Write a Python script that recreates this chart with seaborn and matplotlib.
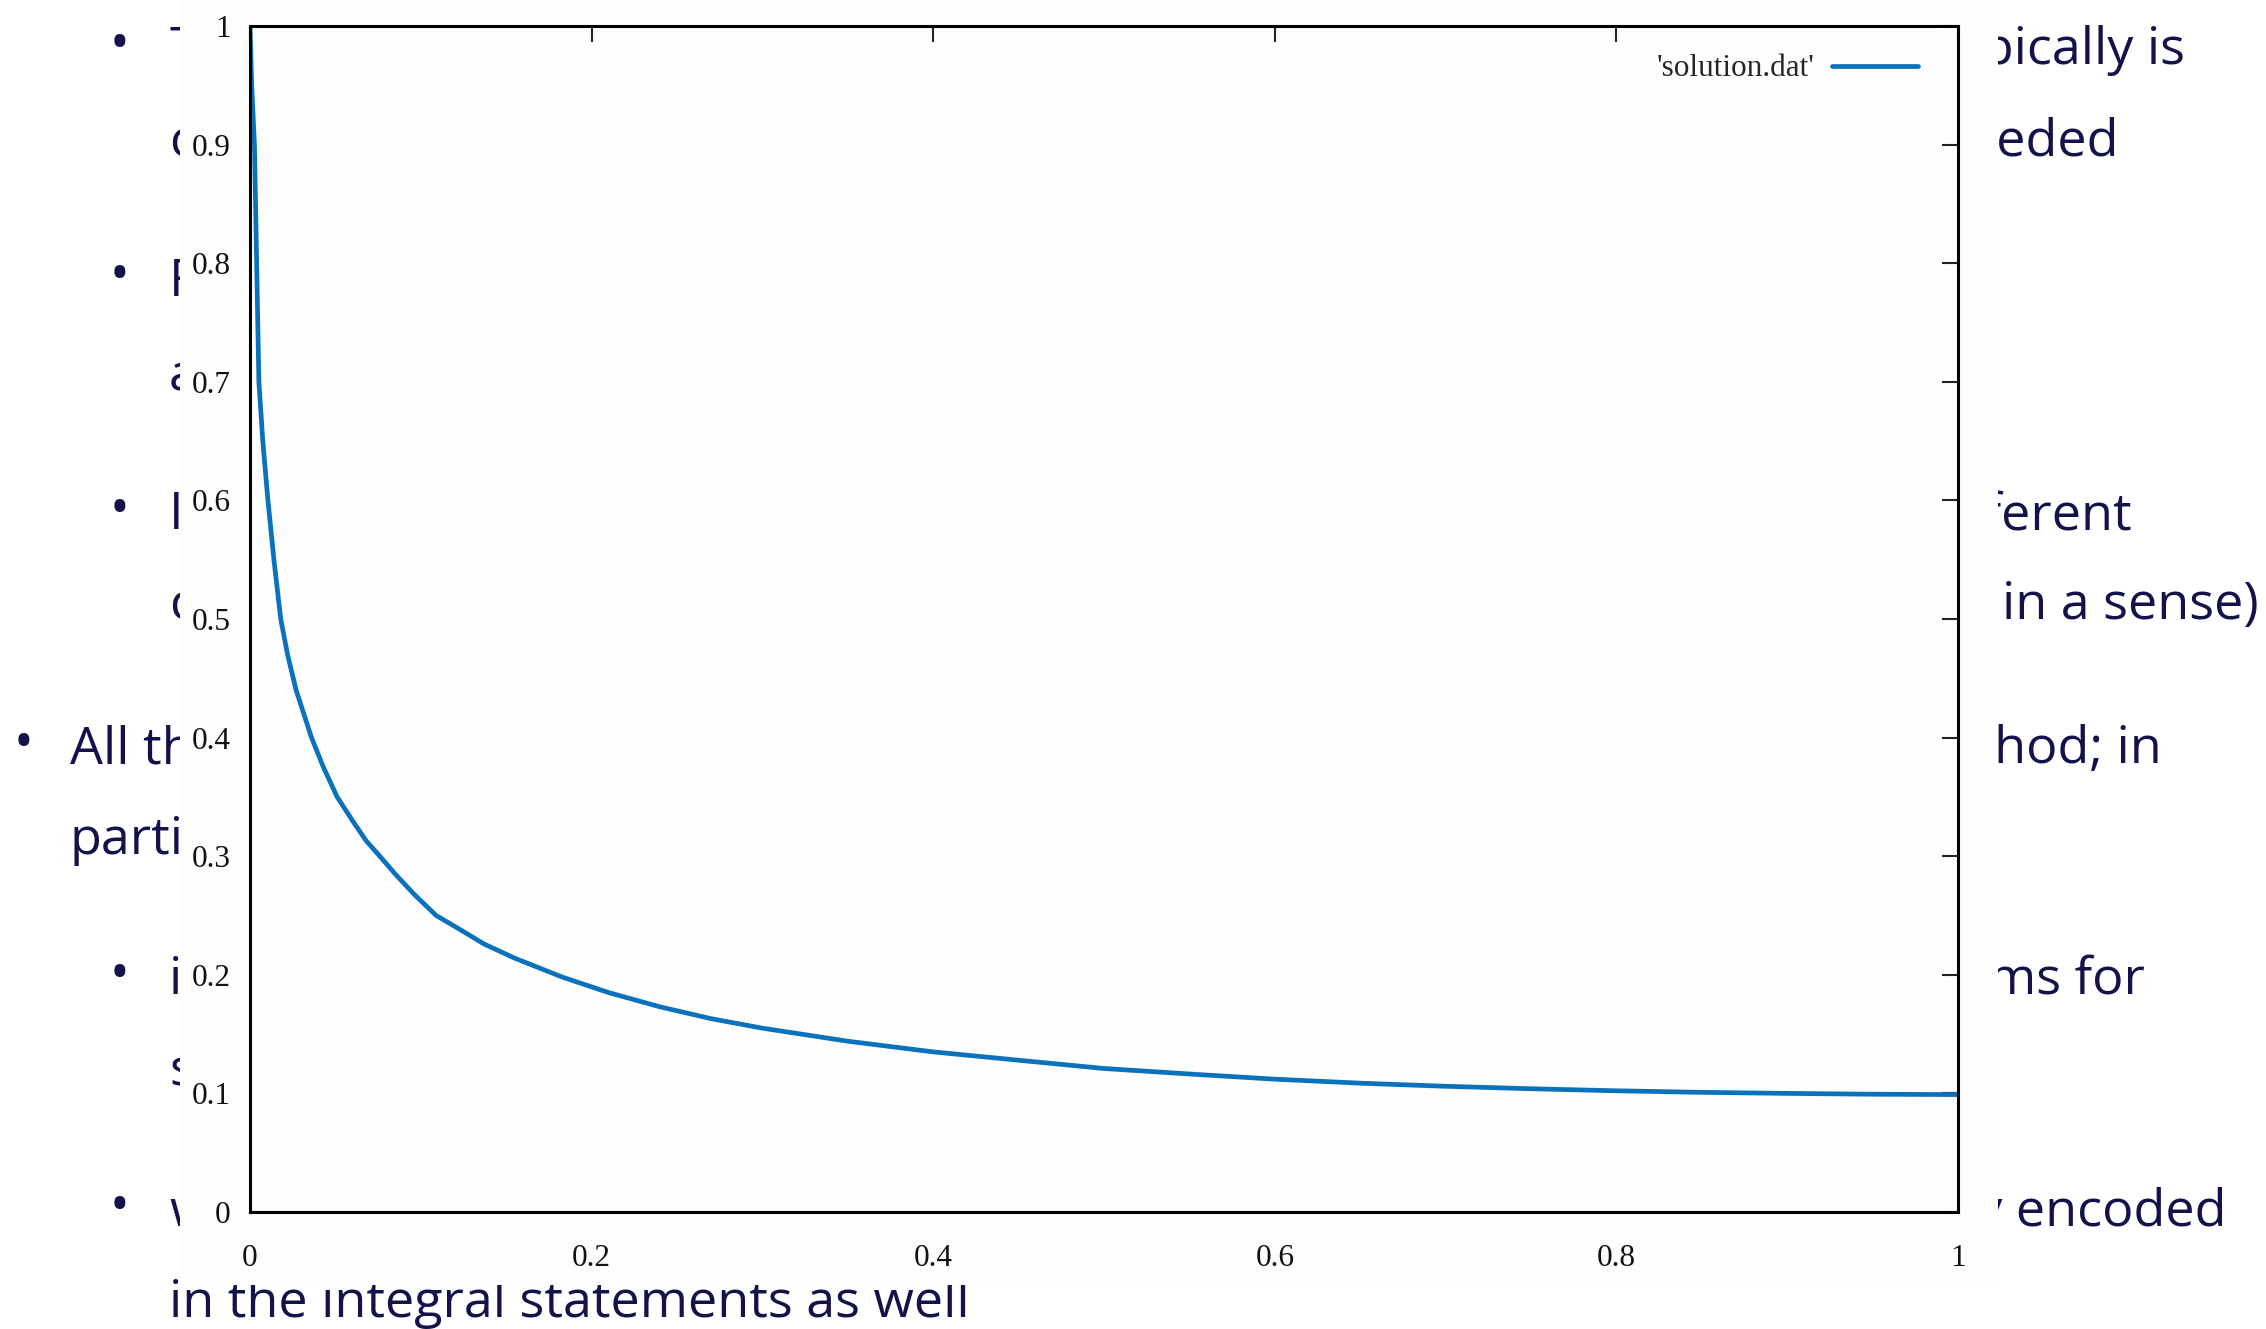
import numpy as np
import pandas as pd
import matplotlib
matplotlib.use("Agg")
import matplotlib.pyplot as plt
from matplotlib.patches import Rectangle
import seaborn as sns

# ---- data ----
x_vals = [0.0, 0.001, 0.0026, 0.0039, 0.0052, 0.0075, 0.0105, 0.014, 0.018, 0.022,
          0.027, 0.036, 0.043, 0.051, 0.06, 0.068, 0.076, 0.085, 0.096, 0.109,
          0.122, 0.137, 0.155, 0.183, 0.21, 0.24, 0.27, 0.3, 0.35, 0.4,
          0.457, 0.5, 0.554, 0.6, 0.652, 0.7, 0.748, 0.8, 0.845, 0.9, 0.95, 1.0]
y_vals = [1.0, 0.95, 0.9, 0.8, 0.7, 0.65, 0.6, 0.55, 0.5, 0.47,
          0.44, 0.4, 0.375, 0.35, 0.33, 0.313, 0.3, 0.285, 0.268, 0.25,
          0.239, 0.226, 0.214, 0.198, 0.185, 0.173, 0.163, 0.155, 0.144, 0.135,
          0.127, 0.121, 0.116, 0.112, 0.1085, 0.106, 0.104, 0.1022, 0.101, 0.1, 0.0993, 0.099]
series_label = "'solution.dat'"
x_ticks = [0, 0.2, 0.4, 0.6, 0.8, 1.0]
x_tick_labels = ["0", "0.2", "0.4", "0.6", "0.8", "1"]
y_ticks = [0, 0.1, 0.2, 0.3, 0.4, 0.5, 0.6, 0.7, 0.8, 0.9, 1.0]
y_tick_labels = ["0", "0.1", "0.2", "0.3", "0.4", "0.5", "0.6", "0.7", "0.8", "0.9", "1"]

# slide text fragments behind the chart: (left text, right text, level)
# level 1 = first-level bullet, 2 = second-level bullet,
# -1 = continuation of first level, 0 = continuation of second level
slide_lines = [
    ("The", "typically is", 2),
    ("conditions", "needed", 0),
    ("For", "", 2),
    ("and", "", 0),
    ("In", "different", 2),
    ("conditions", "in a sense)", 0),
    ("All the", "method; in", 1),
    ("particular", "", -1),
    ("in", "problems for", 2),
    ("some", "", 0),
    ("which", "naturally encoded", 2),
    ("in the integral statements as well", "", 0),
]

W, H = 2266, 1329
sns.set_theme(style="white")
plt.rcParams["font.family"] = ["Liberation Serif", "DejaVu Serif"]

fig = plt.figure(figsize=(W / 100, H / 100), dpi=100)
fig.patch.set_facecolor("white")

navy = "#13124a"
slide_font = ["Open Sans", "DejaVu Sans"]
fs = 37.5
baselines = [64, 155, 295, 389, 529, 619, 763, 854, 994, 1085, 1226, 1317]
right_ends = {0: 2185, 1: 2119, 4: 2132, 5: 2259, 6: 2162, 8: 2145, 10: 2226}
for i, (lt, rt, lvl) in enumerate(slide_lines):
    yb = 1 - baselines[i] / H
    if lvl in (1, -1):
        tx, bx = 70, 23
    else:
        tx, bx = 169, 119
    if lvl in (1, 2):
        fig.text(bx / W, 1 - (baselines[i] - 18) / H, "•", family=slide_font, fontsize=38,
                 color=navy, ha="center", va="center", zorder=1)
    fig.text(tx / W, yb, lt, family=slide_font, fontsize=fs, color=navy,
             ha="left", va="baseline", zorder=1)
    if rt:
        fig.text(right_ends[i] / W, yb, rt, family=slide_font, fontsize=fs, color=navy,
                 ha="right", va="baseline", zorder=1)

# white chart image box covering the slide text
fig.patches.append(Rectangle((180 / W, 1 - 1285 / H), (1998 - 180) / W, 1285 / H,
                             transform=fig.transFigure, facecolor="#fdfdfd",
                             edgecolor="none", zorder=2))

ax = fig.add_axes([250 / W, 1 - 1212 / H, 1708 / W, 1186 / H])
ax.set_zorder(5)
ax.set_facecolor("none")

df = pd.DataFrame({"x": x_vals, "y": y_vals})
sns.lineplot(data=df, x="x", y="y", ax=ax, color="#0a72bd", linewidth=3.4,
             label=series_label, estimator=None, sort=False)

ax.set_xlim(0, 1)
ax.set_ylim(0, 1)
ax.set_xticks(x_ticks)
ax.set_xticklabels(x_tick_labels)
ax.set_yticks(y_ticks)
ax.set_yticklabels(y_tick_labels)
ax.set_xlabel("")
ax.set_ylabel("")
for s in ax.spines.values():
    s.set_visible(True)
    s.set_color("black")
    s.set_linewidth(2.2)
ax.tick_params(axis="both", direction="in", length=11.5, width=1.5, color="#222222",
               top=True, right=True, labelsize=22.5, labelcolor="#111111")
ax.tick_params(axis="y", pad=14)
ax.tick_params(axis="x", pad=23)

leg = ax.legend(loc="upper right", bbox_to_anchor=(0.984, 1 - 16 / 1186),
                frameon=False, markerfirst=False, handlelength=2.75, fontsize=22.5,
                borderaxespad=0, handletextpad=0.55)

fig.savefig("out.png", dpi=100, facecolor="white")
